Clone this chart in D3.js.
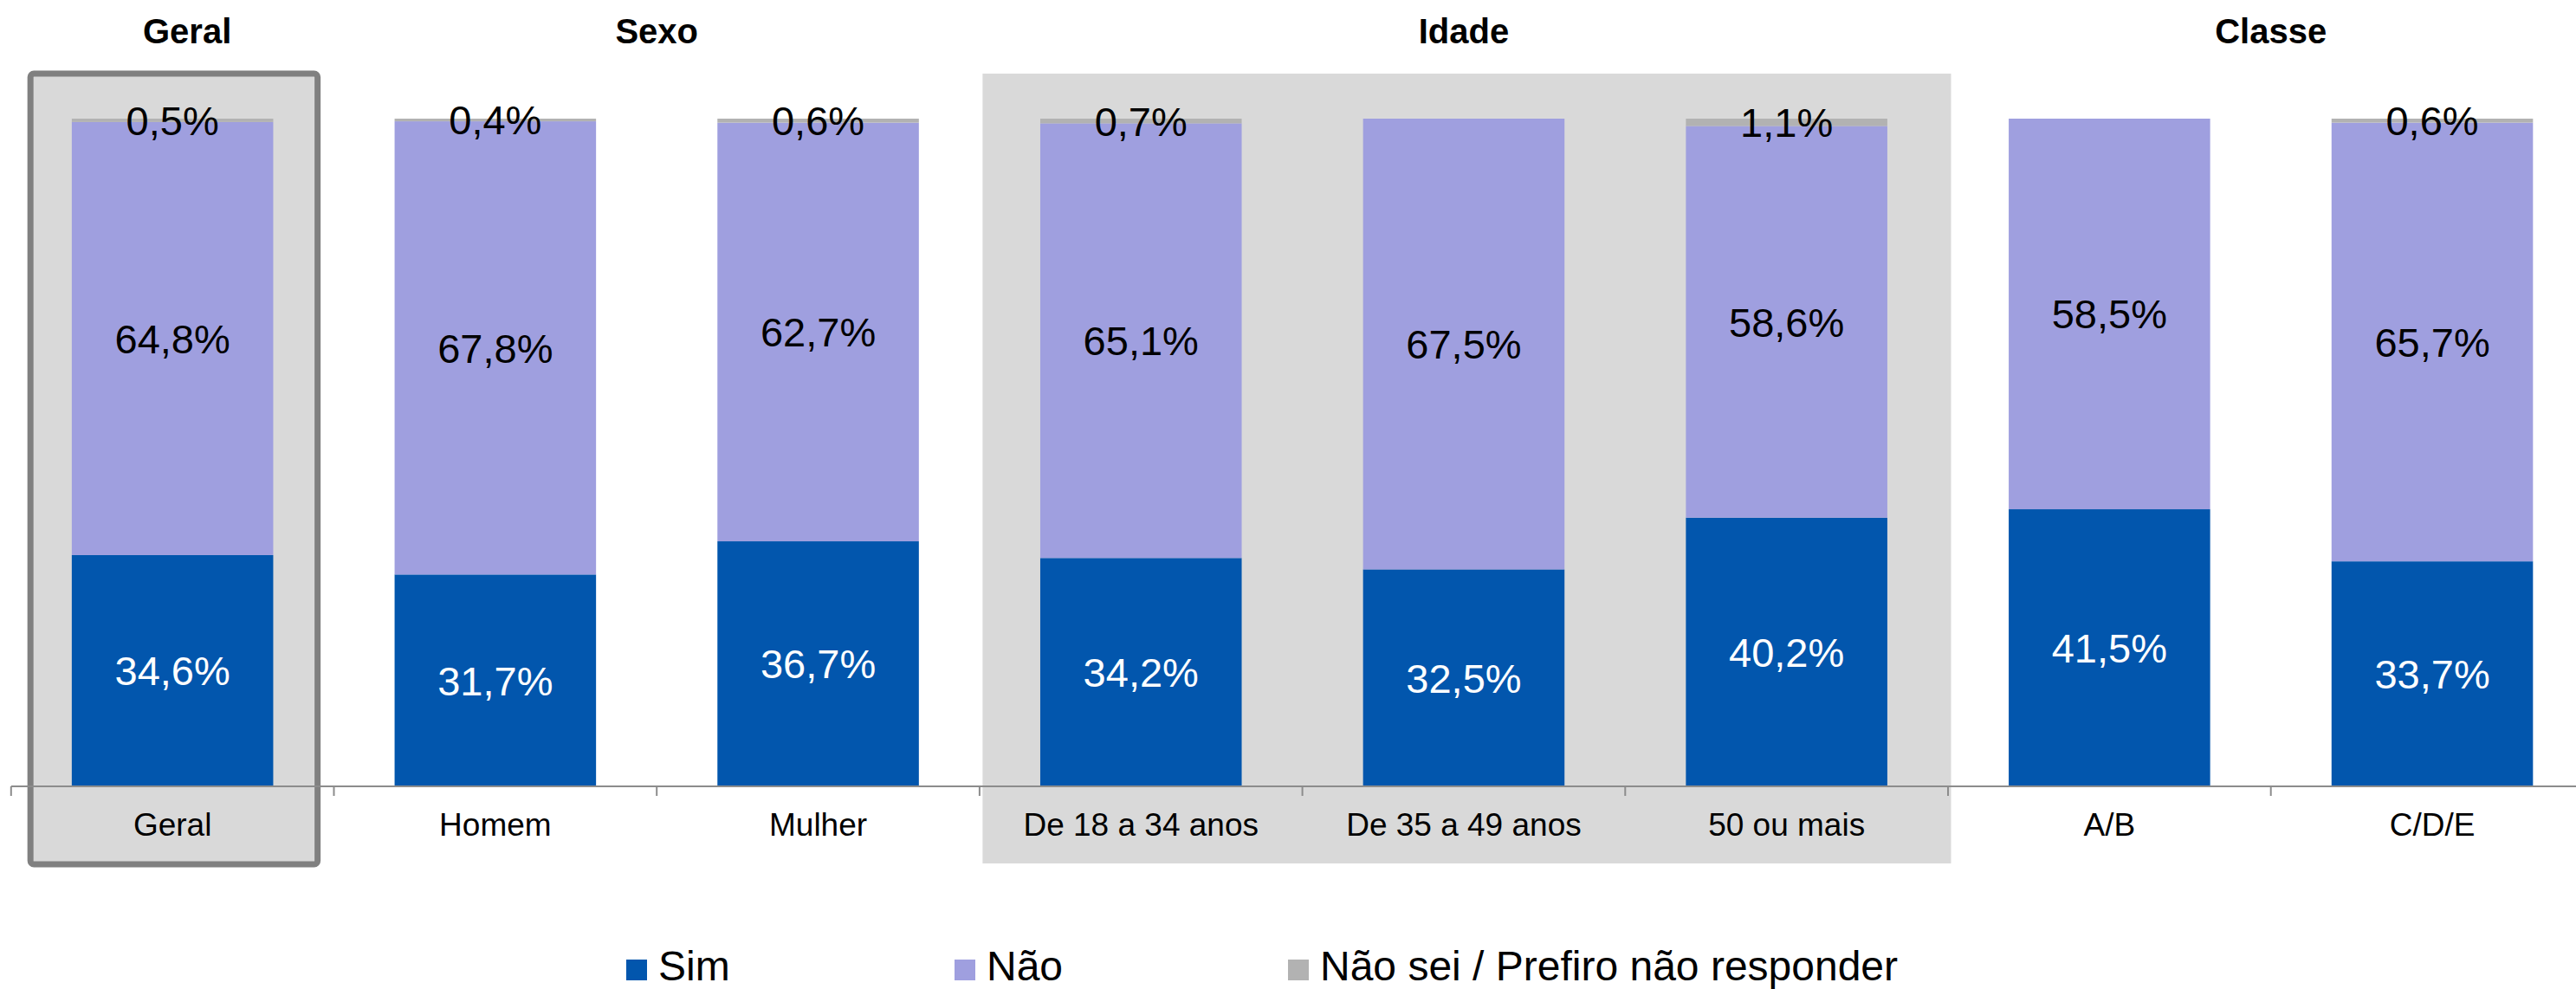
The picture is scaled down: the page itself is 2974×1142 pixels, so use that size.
<!DOCTYPE html>
<html>
<head>
<meta charset="utf-8">
<script src="https://cdn.jsdelivr.net/npm/d3@7"></script>
<style>
  html, body { margin: 0; padding: 0; background: #ffffff; }
  svg { display: block; font-family: "Liberation Sans", Arial, sans-serif; }
</style>
</head>
<body>
<svg id="chart" width="2974" height="1142"></svg>
<script>
// ---- data ----
const categories = ["Geral", "Homem", "Mulher", "De 18 a 34 anos", "De 35 a 49 anos", "50 ou mais", "A/B", "C/D/E"];
const sim   = [34.6, 31.7, 36.7, 34.2, 32.5, 40.2, 41.5, 33.7];
const nao   = [64.8, 67.8, 62.7, 65.1, 67.5, 58.6, 58.5, 65.7];
const naoSei = [0.5, 0.4, 0.6, 0.7, 0.0, 1.1, 0.0, 0.6];
const seriesNames = ["Sim", "Não", "Não sei / Prefiro não responder"];
const groups = [
  { name: "Geral",  from: 0, to: 0 },
  { name: "Sexo",   from: 1, to: 2 },
  { name: "Idade",  from: 3, to: 5 },
  { name: "Classe", from: 6, to: 7 }
];

// ---- layout ----
const colors = ["#0256ad", "#9f9fdf", "#b2b2b2"];
const labelColors = ["#ffffff", "#000000", "#000000"];
const svg = d3.select("#chart");
const axisY = 908, topY = 137;
const x0 = 12.8, step = 372.7;

const x = d3.scaleBand()
  .domain(categories)
  .range([x0, x0 + step * categories.length])
  .paddingInner(0.376)
  .paddingOuter(0.188);

const y = d3.scaleLinear().domain([0, 1]).range([axisY, topY]);

const rows = categories.map((c, i) => ({ cat: c, s0: sim[i], s1: nao[i], s2: naoSei[i] }));
const keys = ["s0", "s1", "s2"];
const stack = d3.stack().keys(keys).offset(d3.stackOffsetExpand);
const stacked = stack(rows);

const bandLeft = c => x(c) - x.step() * x.paddingInner() / 2;

// Idade background
const idade = groups[2];
svg.append("rect")
  .attr("x", bandLeft(categories[idade.from]) + 3.5)
  .attr("y", 85)
  .attr("width", x.step() * (idade.to - idade.from + 1))
  .attr("height", 997 - 85)
  .attr("fill", "#d9d9d9");

// Geral box
const gc = x(categories[0]) + x.bandwidth() / 2;
svg.append("rect")
  .attr("x", gc - 164)
  .attr("y", 85)
  .attr("width", 331.5)
  .attr("height", 913)
  .attr("rx", 4).attr("ry", 4)
  .attr("fill", "#d9d9d9")
  .attr("stroke", "#808080")
  .attr("stroke-width", 7);

// bars
const layers = svg.append("g").selectAll("g")
  .data(stacked)
  .join("g")
  .attr("fill", (d, i) => colors[i]);

layers.selectAll("rect")
  .data(d => d)
  .join("rect")
  .attr("x", d => x(d.data.cat))
  .attr("y", d => y(d[1]))
  .attr("width", x.bandwidth())
  .attr("height", d => Math.max(0, y(d[0]) - y(d[1])));

// axis line and ticks
svg.append("line")
  .attr("x1", x0).attr("x2", x0 + step * categories.length)
  .attr("y1", axisY).attr("y2", axisY)
  .attr("stroke", "#8c8c8c").attr("stroke-width", 2);

svg.append("g").selectAll("line")
  .data(d3.range(categories.length + 1))
  .join("line")
  .attr("x1", i => x0 + i * x.step())
  .attr("x2", i => x0 + i * x.step())
  .attr("y1", axisY).attr("y2", axisY + 11)
  .attr("stroke", "#8c8c8c").attr("stroke-width", 2);

// category labels
svg.append("g").selectAll("text")
  .data(categories)
  .join("text")
  .attr("x", d => x(d) + x.bandwidth() / 2)
  .attr("y", 965)
  .attr("text-anchor", "middle")
  .attr("font-size", 37)
  .attr("fill", "#000")
  .text(d => d);

// value labels
const fmt = v => v.toFixed(1).replace(".", ",") + "%";
stacked.forEach((layer, li) => {
  const src = [sim, nao, naoSei][li];
  svg.append("g").selectAll("text")
    .data(layer.filter((d, i) => src[i] > 0))
    .join("text")
    .attr("x", d => x(d.data.cat) + x.bandwidth() / 2)
    .attr("y", d => (y(d[0]) + y(d[1])) / 2)
    .attr("dy", "0.36em")
    .attr("text-anchor", "middle")
    .attr("font-size", 47)
    .attr("fill", labelColors[li])
    .text(d => fmt(src[categories.indexOf(d.data.cat)]));
});

// group titles
svg.append("g").selectAll("text")
  .data(groups)
  .join("text")
  .attr("x", (g, i) => {
    const a = x(categories[g.from]), b = x(categories[g.to]) + x.bandwidth();
    return (a + b) / 2 + (i === 0 ? 17 : 0);
  })
  .attr("y", 50)
  .attr("text-anchor", "middle")
  .attr("font-size", 40)
  .attr("font-weight", "bold")
  .attr("fill", "#000")
  .text(g => g.name);

// legend
const legendX = [723, 1102, 1487];
const lg = svg.append("g").selectAll("g")
  .data(seriesNames)
  .join("g")
  .attr("transform", (d, i) => `translate(${legendX[i]},1108)`);
lg.append("rect").attr("width", 24).attr("height", 24).attr("fill", (d, i) => colors[i]);
lg.append("text")
  .attr("x", 37).attr("y", 24)
  .attr("font-size", 48)
  .attr("fill", "#000")
  .text(d => d);
</script>
</body>
</html>
